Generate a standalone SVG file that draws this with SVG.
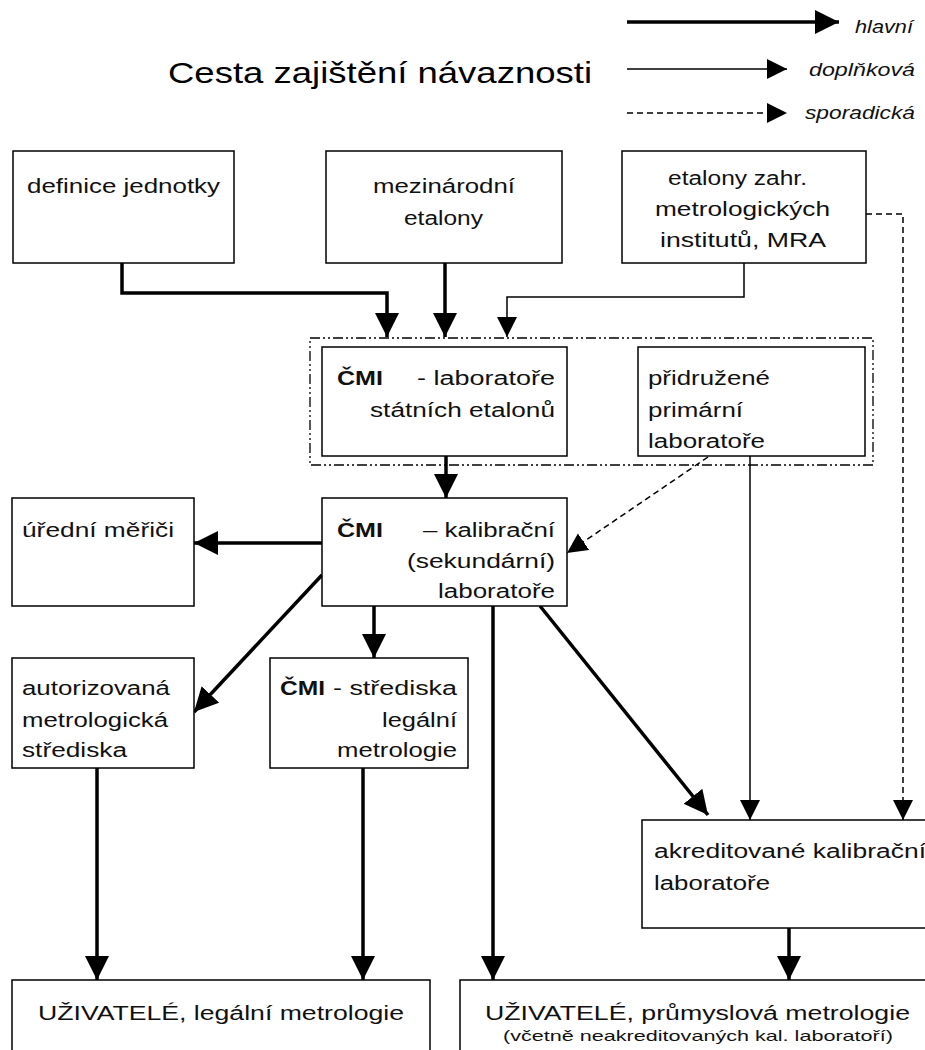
<svg xmlns="http://www.w3.org/2000/svg" width="925" height="1050" viewBox="0 0 925 1050">
<style>
  .box { fill: #fff; stroke: #000; stroke-width: 1.5; }
  .t { font-family: "Liberation Sans", Arial, sans-serif; font-size: 20px; fill: #111; }
  .b { font-weight: bold; }
  .leg { font-family: "Liberation Sans", Arial, sans-serif; font-size: 18px; font-style: italic; fill: #111; }
  .title { font-family: "Liberation Sans", Arial, sans-serif; font-size: 30px; fill: #000; }
  .small { font-family: "Liberation Sans", Arial, sans-serif; font-size: 15px; fill: #111; }
  .main { fill: none; stroke: #000; stroke-width: 3.5; marker-end: url(#hm); }
  .aux { fill: none; stroke: #000; stroke-width: 1.5; marker-end: url(#am); }
  .spor { fill: none; stroke: #000; stroke-width: 1.5; stroke-dasharray: 6 4; marker-end: url(#sm); }
  .grp { fill: none; stroke: #000; stroke-width: 1.3; stroke-dasharray: 10 3 2 3 2 3; }
</style>
<defs>
  <marker id="hm" markerUnits="userSpaceOnUse" markerWidth="26" markerHeight="26" refX="24" refY="12" orient="auto">
    <path d="M0,0 L24,12 L0,24 z" fill="#000"/>
  </marker>
  <marker id="am" markerUnits="userSpaceOnUse" markerWidth="22" markerHeight="22" refX="20" refY="10" orient="auto">
    <path d="M0,0 L20,10 L0,20 z" fill="#000"/>
  </marker>
  <marker id="sm" markerUnits="userSpaceOnUse" markerWidth="22" markerHeight="22" refX="20" refY="10" orient="auto">
    <path d="M0,0 L20,10 L0,20 z" fill="#000"/>
  </marker>
</defs>
<rect width="925" height="1050" fill="#fff"/>

<g id="title">
  <text class="title" x="168" y="83" textLength="424" lengthAdjust="spacingAndGlyphs">Cesta zajištění návaznosti</text>
</g>

<g id="legend">
  <line class="main" x1="627" y1="22" x2="839" y2="22"/>
  <text class="leg" x="855" y="33" textLength="58" lengthAdjust="spacingAndGlyphs">hlavní</text>
  <line class="aux" x1="627" y1="69" x2="787" y2="69"/>
  <text class="leg" x="809" y="76" textLength="106" lengthAdjust="spacingAndGlyphs">doplňková</text>
  <line class="spor" x1="627" y1="113" x2="787" y2="113"/>
  <text class="leg" x="805" y="119" textLength="110" lengthAdjust="spacingAndGlyphs">sporadická</text>
</g>

<g id="connectors">
  <polyline class="main" points="122,263 122,293 387,293 387,337"/>
  <line class="main" x1="445" y1="263" x2="445" y2="337"/>
  <polyline class="aux" points="744,263 744,297 507,297 507,337"/>
  <polyline class="spor" points="866,214 903,214 903,820"/>
  <line class="main" x1="446" y1="456" x2="446" y2="498"/>
  <line class="main" x1="322" y1="543" x2="194" y2="543"/>
  <line class="spor" x1="708" y1="457" x2="567" y2="553"/>
  <line class="aux" x1="750" y1="456" x2="750" y2="820"/>
  <line class="main" x1="322" y1="575" x2="194" y2="712"/>
  <line class="main" x1="374" y1="606" x2="374" y2="658"/>
  <line class="main" x1="540" y1="606" x2="708" y2="815"/>
  <line class="main" x1="493" y1="606" x2="493" y2="980"/>
  <line class="main" x1="97" y1="768" x2="97" y2="980"/>
  <line class="main" x1="363" y1="768" x2="363" y2="980"/>
  <line class="main" x1="789" y1="928" x2="789" y2="980"/>
</g>

<g id="group-frame">
  <rect class="grp" x="310" y="338" width="563" height="127"/>
</g>

<g id="definice">
  <rect class="box" x="13" y="151" width="221" height="112"/>
  <text class="t" x="27" y="193" textLength="193" lengthAdjust="spacingAndGlyphs">definice jednotky</text>
</g>

<g id="mezinarodni">
  <rect class="box" x="326" y="151" width="236" height="112"/>
  <text class="t" x="373" y="193" textLength="142" lengthAdjust="spacingAndGlyphs">mezinárodní</text>
  <text class="t" x="404" y="225" textLength="79" lengthAdjust="spacingAndGlyphs">etalony</text>
</g>

<g id="zahranicni">
  <rect class="box" x="622" y="151" width="244" height="112"/>
  <text class="t" x="668" y="185" textLength="139" lengthAdjust="spacingAndGlyphs">etalony zahr.</text>
  <text class="t" x="655" y="216" textLength="175" lengthAdjust="spacingAndGlyphs">metrologických</text>
  <text class="t" x="660" y="247" textLength="166" lengthAdjust="spacingAndGlyphs">institutů, MRA</text>
</g>

<g id="cmi-statni">
  <rect class="box" x="322" y="347" width="245" height="109"/>
  <text class="t b" x="337" y="385" textLength="46" lengthAdjust="spacingAndGlyphs">ČMI</text>
  <text class="t" x="417" y="385" textLength="138" lengthAdjust="spacingAndGlyphs">- laboratoře</text>
  <text class="t" x="370" y="417" textLength="185" lengthAdjust="spacingAndGlyphs">státních etalonů</text>
</g>

<g id="pridruzene">
  <rect class="box" x="638" y="347" width="227" height="109"/>
  <text class="t" x="648" y="385" textLength="122" lengthAdjust="spacingAndGlyphs">přidružené</text>
  <text class="t" x="648" y="417" textLength="95" lengthAdjust="spacingAndGlyphs">primární</text>
  <text class="t" x="648" y="448" textLength="117" lengthAdjust="spacingAndGlyphs">laboratoře</text>
</g>

<g id="uredni">
  <rect class="box" x="12" y="498" width="182" height="108"/>
  <text class="t" x="22" y="537" textLength="152" lengthAdjust="spacingAndGlyphs">úřední měřiči</text>
</g>

<g id="cmi-kalibracni">
  <rect class="box" x="322" y="498" width="245" height="108"/>
  <text class="t b" x="337" y="537" textLength="46" lengthAdjust="spacingAndGlyphs">ČMI</text>
  <text class="t" x="423" y="537" textLength="132" lengthAdjust="spacingAndGlyphs">– kalibrační</text>
  <text class="t" x="407" y="568" textLength="148" lengthAdjust="spacingAndGlyphs">(sekundární)</text>
  <text class="t" x="438" y="598" textLength="117" lengthAdjust="spacingAndGlyphs">laboratoře</text>
</g>

<g id="autorizovana">
  <rect class="box" x="12" y="658" width="182" height="110"/>
  <text class="t" x="22" y="695" textLength="148" lengthAdjust="spacingAndGlyphs">autorizovaná</text>
  <text class="t" x="22" y="727" textLength="146" lengthAdjust="spacingAndGlyphs">metrologická</text>
  <text class="t" x="22" y="757" textLength="105" lengthAdjust="spacingAndGlyphs">střediska</text>
</g>

<g id="cmi-strediska">
  <rect class="box" x="270" y="658" width="198" height="110"/>
  <text class="t b" x="280" y="695" textLength="45" lengthAdjust="spacingAndGlyphs">ČMI</text>
  <text class="t" x="333" y="695" textLength="124" lengthAdjust="spacingAndGlyphs">- střediska</text>
  <text class="t" x="382" y="727" textLength="75" lengthAdjust="spacingAndGlyphs">legální</text>
  <text class="t" x="337" y="757" textLength="120" lengthAdjust="spacingAndGlyphs">metrologie</text>
</g>

<g id="akreditovane">
  <rect class="box" x="642" y="820" width="300" height="108"/>
  <text class="t" x="654" y="858" textLength="272" lengthAdjust="spacingAndGlyphs">akreditované kalibrační</text>
  <text class="t" x="654" y="890" textLength="116" lengthAdjust="spacingAndGlyphs">laboratoře</text>
</g>

<g id="uzivatele-legalni">
  <rect class="box" x="12" y="980" width="418" height="80"/>
  <text class="t" x="38" y="1020" textLength="366" lengthAdjust="spacingAndGlyphs">UŽIVATELÉ, legální metrologie</text>
</g>

<g id="uzivatele-prumyslova">
  <rect class="box" x="460" y="980" width="480" height="80"/>
  <text class="t" x="485" y="1020" textLength="425" lengthAdjust="spacingAndGlyphs">UŽIVATELÉ, průmyslová metrologie</text>
  <text class="small" x="503" y="1041" textLength="390" lengthAdjust="spacingAndGlyphs">(včetně neakreditovaných kal. laboratoří)</text>
</g>
</svg>
